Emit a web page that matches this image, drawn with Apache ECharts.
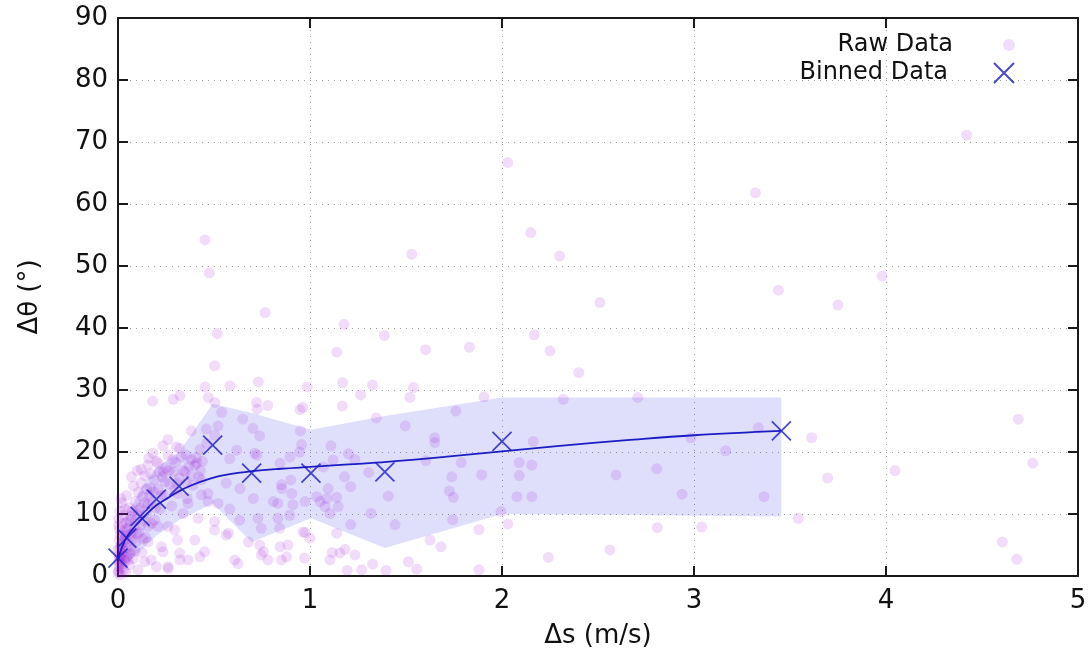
<!DOCTYPE html>
<html>
<head>
<meta charset="utf-8">
<script src="https://cdn.jsdelivr.net/npm/echarts/dist/echarts.min.js"></script>
<style>
  html, body { margin: 0; padding: 0; background: #ffffff; }
  #chart { width: 1091px; height: 661px; }
</style>
</head>
<body>
<div id="chart"></div>
<script>
// Axis ticks
const xTicks = [0, 1, 2, 3, 4, 5];
const yTicks = [0, 10, 20, 30, 40, 50, 60, 70, 80, 90];

// Binned averages (Δs, Δθ)
const binX = [0.0, 0.046, 0.115, 0.2, 0.318, 0.493, 0.696, 1.005, 1.39, 2.0, 3.455];
const binY = [2.9, 6.1, 9.6, 12.4, 14.5, 21.1, 16.6, 16.6, 16.8, 21.7, 23.4];

// Spread of each bin (lower / upper edge of the shaded band)
const bandLow  = [0.5, 2.0, 4.0, 6.5, 9.0, 11.7, 5.5, 9.3, 4.5, 10.0, 9.6];
const bandHigh = [5.5, 9.5, 14.0, 17.5, 20.0, 27.8, 26.3, 23.6, 25.8, 28.8, 28.8];

// Fitted trend through the binned values
const fitX = [0.0, 0.02, 0.05, 0.1, 0.15, 0.2, 0.26, 0.32, 0.38, 0.48, 0.56, 0.7, 0.85, 1.0, 1.2, 1.4, 1.7, 2.0, 2.3, 2.65, 3.0, 3.455];
const fitY = [2.6, 4.6, 6.5, 8.4, 10.0, 11.4, 12.6, 13.7, 14.6, 15.7, 16.3, 16.9, 17.3, 17.6, 18.0, 18.4, 19.2, 20.1, 21.0, 21.9, 22.7, 23.4];

// Individual measurements [Δs, Δθ]
const rawPoints = [
  // sparse outliers
  [4.42,71.1],[2.03,66.7],[3.32,61.8],[2.15,55.4],[1.53,51.9],[2.30,51.6],[3.98,48.4],[3.44,46.1],[2.51,44.1],[3.75,43.7],
  [0.453,54.2],[0.476,48.9],[0.766,42.5],[0.517,39.1],[0.503,33.9],[0.453,30.5],[0.583,30.7],[0.731,31.3],[0.18,28.2],[0.288,28.5],
  [0.323,29.1],[0.47,28.8],[0.505,28.0],[0.54,26.4],[0.722,28.0],[0.725,26.9],[0.78,27.5],[0.948,26.8],[0.962,27.2],[0.65,25.3],
  // middle range
  [1.177,40.6],[1.387,38.8],[1.139,36.1],[1.602,36.5],[1.83,36.9],[2.168,38.9],[2.25,36.3],[2.40,32.8],
  [0.986,30.5],[1.17,31.2],[1.325,30.8],[1.264,29.2],[1.538,30.4],[1.52,28.8],[1.906,28.9],[1.168,27.4],
  [1.345,25.5],[1.76,26.6],[2.319,28.5],[1.496,24.2],[0.95,23.4],[0.956,21.2],
  [1.109,21.0],[1.649,22.3],[1.65,21.5],[1.2,19.7],[1.234,18.8],[1.603,18.6],[1.788,18.3],[2.163,21.7],[2.09,18.3],[2.155,17.9],
  [1.18,16.0],[1.306,16.7],[1.738,16.0],[1.894,16.3],[2.09,16.2],[2.594,16.3],[1.095,14.1],[1.212,14.4],[1.139,12.7],[1.408,12.9],
  [1.726,13.7],[1.747,12.7],[2.078,12.8],[2.155,12.8],[1.052,12.0],[1.078,11.2],[1.318,10.1],[1.212,8.3],[1.443,8.3],[1.743,9.1],
  [1.995,10.4],[2.03,8.4],[1.88,7.5],[0.974,7.0],[1.0,6.1],[1.139,6.9],[1.625,5.8],[1.682,4.7],[1.116,3.8],[1.182,4.3],
  [1.234,3.4],[1.326,1.9],[1.194,0.9],[1.269,1.0],[1.396,0.9],[1.512,2.3],[1.556,1.1],[1.88,1.0],[2.241,3.0],[2.562,4.2],
  // right side
  [2.707,28.8],[3.335,23.9],[3.613,22.3],[4.689,25.3],[2.984,22.3],[3.165,20.2],[2.806,17.3],[4.047,17.0],[4.764,18.2],[3.696,15.8],
  [2.938,13.2],[3.365,12.8],[3.543,9.3],[2.809,7.8],[3.04,7.9],[4.606,5.5],[4.681,2.7],
  // small Δs, mid Δθ
  [0.703,23.8],[0.738,22.6],[0.382,23.4],[0.46,23.7],[0.521,24.2],[0.503,22.7],[0.26,22.0],[0.182,19.8],[0.234,21.0],[0.304,20.8],
  [0.321,20.6],[0.356,19.5],[0.382,18.8],[0.408,19.1],[0.712,19.8],[0.724,19.5],[0.582,18.9],[0.121,17.2],[0.156,17.9],[0.208,18.2],
  [0.234,16.8],[0.946,20.0],
  [0.564,15.0],[0.434,13.1],[0.469,12.0],[0.582,10.8],[0.634,9.0],[0.729,9.3],[0.746,7.7],[0.833,11.7],[0.911,11.5],[0.851,14.7],
  [0.9,15.5],[0.833,9.3],[0.842,7.7],[0.503,8.8],[0.564,6.6],[0.503,7.4],[0.4,5.8],[0.31,5.8],[0.321,3.7],[0.451,3.9],
  [0.608,2.6],[0.625,2.0],[0.738,5.0],[0.746,3.4],[0.781,2.6],[0.851,2.6],[0.885,5.0],[0.972,2.9],[0.894,9.8],[0.964,7.1],
  [0.26,1.5],[0.173,2.6],[0.234,3.9],[0.156,5.5],[0.226,4.7],[0.365,2.6],[0.295,7.4],[0.26,8.0],[0.208,8.0],[0.191,9.0],
  [0.339,10.1],[0.417,9.3],[0.365,11.7],[0.434,15.5],[0.469,13.3],[0.295,13.9],[0.356,15.0],[0.521,11.7],[0.2,1.5],[0.139,2.3],
  [0.104,1.0],
  [0.427,20.4],[0.462,21.4],[0.618,20.3],[0.896,19.2],[0.844,18.2],[1.07,17.6],[1.12,18.7],[0.635,14.1],[0.853,14.1],[0.905,13.3],
  [0.809,12.0],[0.705,12.5],[0.974,12.0],[1.035,12.8],[1.087,12.5],[1.104,10.1],[1.147,11.2],[0.575,6.9],[0.679,5.5],[0.757,3.9],
  [0.844,4.7],[0.878,3.1],[1.156,3.7],[1.104,2.6],[0.262,1.2],[0.323,2.6],[0.427,3.1],
  // dense cluster near the origin
  [0.0,0.5],[0.005,1.5],[0.01,3.0],[0.0,4.2],[0.015,5.0],[0.02,2.0],[0.025,6.5],[0.03,1.0],[0.035,4.0],[0.04,7.5],
  [0.045,3.0],[0.05,5.5],[0.055,9.0],[0.06,1.8],[0.065,6.8],[0.008,7.5],[0.012,0.2],[0.02,8.5],[0.03,9.8],[0.003,2.5],
  [0.018,3.7],[0.04,0.6],[0.07,4.2],[0.075,10.5],[0.08,2.8],[0.085,8.0],[0.09,12.0],[0.095,5.5],[0.1,9.8],[0.105,13.5],
  [0.11,7.0],[0.115,11.0],[0.12,15.0],[0.125,3.8],[0.13,12.8],[0.135,9.0],[0.14,16.2],[0.145,6.2],[0.15,14.0],[0.155,11.5],
  [0.16,19.0],[0.165,13.0],[0.17,16.5],[0.175,8.5],[0.18,12.0],[0.19,15.5],[0.2,18.5],[0.21,14.0],[0.22,10.8],[0.23,16.0],
  [0.24,13.0],[0.25,17.5],[0.26,19.5],[0.27,14.8],[0.28,11.3],[0.29,16.8],[0.3,18.3],[0.31,13.3],[0.32,15.8],[0.34,17.0],
  [0.36,12.5],[0.38,16.2],[0.4,17.8],[0.42,16.0],[0.44,18.5],[0.06,11.0],[0.045,13.0],[0.08,14.5],[0.1,17.0],[0.07,16.0],
  [0.02,11.8],[0.035,10.8],
  [0.002,0.8],[0.006,2.2],[0.004,3.4],[0.01,4.6],[0.008,5.8],[0.012,6.6],[0.003,8.2],[0.015,1.2],[0.018,2.8],[0.022,4.4],
  [0.026,5.4],[0.028,3.2],[0.032,7.0],[0.036,2.4],[0.038,5.9],[0.042,8.6],[0.048,4.6],[0.052,2.6],[0.058,7.8],[0.062,3.6],
  [0.066,9.6],[0.072,5.8],[0.078,7.0],[0.088,4.0],[0.092,9.0],[0.098,6.8],[0.108,10.6],[0.118,8.2],[0.128,6.0],[0.138,11.8],
  [0.148,10.0],[0.158,8.0],[0.168,14.2],[0.185,13.6],[0.195,11.0],[0.215,16.8],[0.225,13.0],[0.245,15.2],[0.265,17.0],[0.285,18.8],
  [0.305,15.0],[0.33,19.2],[0.35,16.8],[0.37,17.8],[0.39,14.6],[0.41,18.2],[0.43,17.0],[0.005,9.2],[0.01,10.5],[0.015,12.5]
];

const FONT = 'DejaVu Sans';
const BLUE = '#1c1cc4';

const chart = echarts.init(document.getElementById('chart'), null, { renderer: 'canvas' });

const gridLine = { show: true, lineStyle: { color: '#a0a0a0', width: 1, type: [1, 5] } };
const frameLine = { show: true, onZero: false, lineStyle: { color: '#1a1a1a', width: 2 } };
const innerTick = { show: true, inside: true, length: 10, lineStyle: { color: '#1a1a1a', width: 2 } };
const labelText = { fontFamily: FONT, fontSize: 26, color: '#111' };

const option = {
  animation: false,
  backgroundColor: '#ffffff',
  grid: { left: 118, right: 13, top: 18, bottom: 85, containLabel: false, outerBoundsMode: 'none' },
  legend: [
    {
      data: ['Raw Data'], orient: 'vertical', right: 71, top: 28, align: 'right',
      itemWidth: 102, itemHeight: 12, selectedMode: false,
      textStyle: { fontFamily: FONT, fontSize: 24, color: '#111' }
    },
    {
      data: ['Binned Data'], orient: 'vertical', right: 71, top: 56, align: 'right',
      itemWidth: 102, itemHeight: 20, selectedMode: false,
      textStyle: { fontFamily: FONT, fontSize: 24, color: '#111' }
    }
  ],
  xAxis: [
    {
      type: 'value', min: xTicks[0], max: xTicks[xTicks.length - 1], interval: 1,
      name: 'Δs (m/s)', nameLocation: 'middle', nameGap: 47,
      nameTextStyle: labelText,
      axisLine: frameLine, axisTick: innerTick, splitLine: gridLine,
      axisLabel: Object.assign({ margin: 12, showMinLabel: true, showMaxLabel: true }, labelText)
    },
    {
      type: 'value', position: 'top', min: xTicks[0], max: xTicks[xTicks.length - 1], interval: 1,
      axisLine: frameLine, axisTick: innerTick, splitLine: { show: false }, axisLabel: { show: false }
    }
  ],
  yAxis: [
    {
      type: 'value', min: yTicks[0], max: yTicks[yTicks.length - 1], interval: 10,
      name: 'Δθ (°)', nameLocation: 'middle', nameGap: 75, nameRotate: 90,
      nameTextStyle: labelText,
      axisLine: frameLine, axisTick: innerTick, splitLine: gridLine,
      axisLabel: Object.assign({ margin: 10, showMinLabel: true, showMaxLabel: true }, labelText)
    },
    {
      type: 'value', position: 'right', min: yTicks[0], max: yTicks[yTicks.length - 1], interval: 10,
      axisLine: frameLine, axisTick: innerTick, splitLine: { show: false }, axisLabel: { show: false }
    }
  ],
  series: [
    {
      name: 'Spread', type: 'custom', xAxisIndex: 0, yAxisIndex: 0, silent: true, z: 1,
      data: [[binX[0], bandLow[0]]],
      renderItem: function (params, api) {
        const pts = [];
        for (let i = 0; i < binX.length; i++) pts.push(api.coord([binX[i], bandHigh[i]]));
        for (let i = binX.length - 1; i >= 0; i--) pts.push(api.coord([binX[i], bandLow[i]]));
        return { type: 'polygon', shape: { points: pts }, style: { fill: 'rgba(40, 40, 235, 0.15)' } };
      }
    },
    {
      name: 'Raw Data', type: 'scatter', xAxisIndex: 0, yAxisIndex: 0, z: 2,
      symbol: 'circle', symbolSize: 11,
      itemStyle: { color: 'rgba(148, 0, 211, 0.17)' },
      data: rawPoints
    },
    {
      name: 'Fit', type: 'line', xAxisIndex: 0, yAxisIndex: 0, z: 3,
      smooth: 0.4, showSymbol: false, symbol: 'none',
      lineStyle: { color: BLUE, width: 1.8 },
      data: fitX.map((x, i) => [x, fitY[i]])
    },
    {
      name: 'Binned Data', type: 'scatter', xAxisIndex: 0, yAxisIndex: 0, z: 4,
      symbol: 'path://M0,0L20,20M20,0L0,20', symbolSize: 19,
      itemStyle: { color: 'rgba(0,0,0,0)', borderColor: BLUE, borderWidth: 1.8 },
      data: binX.map((x, i) => [x, binY[i]])
    }
  ]
};

chart.setOption(option);
</script>
</body>
</html>
